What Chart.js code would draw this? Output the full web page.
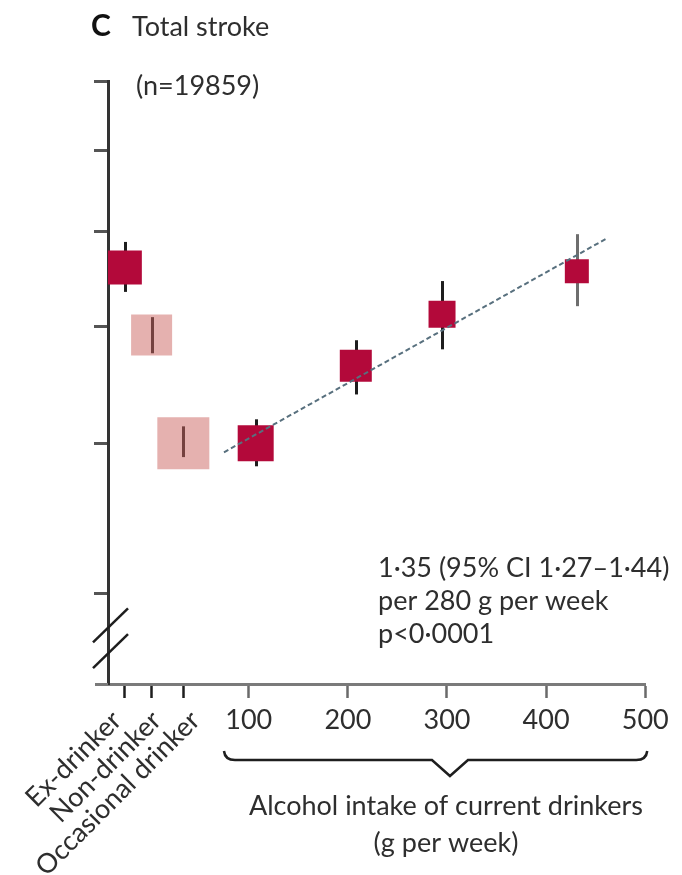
<!DOCTYPE html>
<html>
<head>
<meta charset="utf-8">
<script src="https://cdn.jsdelivr.net/npm/chart.js@4.4.1/dist/chart.umd.min.js"></script>
<style>
  html, body { margin: 0; padding: 0; background: #fff; }
  canvas { display: block; }
</style>
</head>
<body>
<canvas id="stroke" width="682" height="875"></canvas>
<script>
// Total stroke: hazard ratio by drinking group (log scale)

const categoryLabels = ['Ex-drinker', 'Non-drinker', 'Occasional drinker'];
const categoryPos = [-25, 2, 34];
const intakeTicks = [100, 200, 300, 400, 500];
const hrTicks = [0.75, 1, 1.25, 1.5, 1.75, 2];

// one entry per marker: 3 non-current groups, then current drinkers
const intake = [-25, 2, 34, 107, 208, 295, 431];
const hazard = [1.40, 1.23, 1.00, 1.00, 1.16, 1.28, 1.39];
const ciLow = [1.336, 1.188, 0.974, 0.957, 1.098, 1.197, 1.300];
const ciHigh = [1.470, 1.273, 1.033, 1.047, 1.218, 1.364, 1.492];

// fitted log-linear trend among current drinkers
const fitIntake = [75, 460];
const fitHazard = [0.983, 1.478];

const RED = '#b3093a';
const PINK = 'rgba(204, 100, 95, 0.5)';
const markerSide = [34, 41, 52, 36, 32, 27, 24];
const markerColor = [RED, PINK, PINK, RED, RED, RED, RED];
const ciColor = ['#1e1e1e', '#1e1e1e', '#1e1e1e', '#1e1e1e', '#1e1e1e', '#1e1e1e', '#6e6e6e'];

const FONT = 'Lato, "Open Sans", sans-serif';
const TEXT = '#2e2e2e';

const errorBars = {
    id: 'errorBars',
    beforeDatasetsDraw(chart) {
        const { ctx, scales: { x, y } } = chart;
        ctx.save();
        ctx.lineWidth = 3;
        intake.forEach((v, i) => {
            const px = Math.round(x.getPixelForValue(v)) + 0.5;
            ctx.strokeStyle = ciColor[i];
            ctx.beginPath();
            ctx.moveTo(px, y.getPixelForValue(ciHigh[i]));
            ctx.lineTo(px, y.getPixelForValue(ciLow[i]));
            ctx.stroke();
        });
        ctx.restore();
    }
};

const decorations = {
    id: 'decorations',
    afterDraw(chart) {
        const { ctx, chartArea, scales: { x, y } } = chart;
        const left = chartArea.left;
        const bottom = chartArea.bottom;
        ctx.save();

        // x axis runs a little past the y axis
        ctx.strokeStyle = '#7a7a7a';
        ctx.lineWidth = 3;
        ctx.beginPath();
        ctx.moveTo(95, bottom + 0.5);
        ctx.lineTo(left, bottom + 0.5);
        ctx.stroke();

        // axis break
        ctx.strokeStyle = '#1e1e1e';
        ctx.lineWidth = 2.5;
        [0.706, 0.672].forEach(v => {
            const cy = y.getPixelForValue(v);
            ctx.beginPath();
            ctx.moveTo(left - 15, cy + 17);
            ctx.lineTo(left + 20, cy - 17);
            ctx.stroke();
        });

        // panel title
        ctx.fillStyle = '#111';
        ctx.textAlign = 'left';
        ctx.textBaseline = 'alphabetic';
        ctx.font = 'bold 30px ' + FONT;
        ctx.fillText('C', 91, 36);
        ctx.fillStyle = TEXT;
        ctx.font = '27px ' + FONT;
        ctx.fillText('Total stroke', 132, 36);
        ctx.fillText('(n=19859)', 136, 95);

        // trend estimate
        ctx.fillText('1·35 (95% CI 1·27–1·44)', 378, 577);
        ctx.fillText('per 280 g per week', 378, 610);
        ctx.fillText('p<0·0001', 378, 643);

        // slanted labels for the non-current groups
        const shift = [-8, 5, 12];
        categoryLabels.forEach((label, i) => {
            const px = x.getPixelForValue(categoryPos[i]);
            ctx.save();
            ctx.translate(px + shift[i], 716);
            ctx.rotate(-Math.PI / 4);
            ctx.textAlign = 'right';
            ctx.textBaseline = 'middle';
            ctx.fillText(label, 0, 0);
            ctx.restore();
        });

        // brace under the intake scale
        const bx0 = x.getPixelForValue(75);
        const bx1 = x.getPixelForValue(500) + 2;
        const tip = x.getPixelForValue(303);
        const by = 760;
        ctx.strokeStyle = '#1e1e1e';
        ctx.lineWidth = 2.5;
        ctx.beginPath();
        ctx.moveTo(bx0, by - 9);
        ctx.quadraticCurveTo(bx0 + 1, by, bx0 + 11, by);
        ctx.lineTo(tip - 18, by);
        ctx.lineTo(tip, by + 16);
        ctx.lineTo(tip + 18, by);
        ctx.lineTo(bx1 - 11, by);
        ctx.quadraticCurveTo(bx1 - 1, by, bx1, by - 9);
        ctx.stroke();

        // axis title
        ctx.textAlign = 'center';
        ctx.fillText('Alcohol intake of current drinkers', tip - 4, 815);
        ctx.fillText('(g per week)', tip - 4, 852);

        ctx.restore();
    }
};

const points = intake.map((v, i) => ({ x: v, y: hazard[i] }));
const fitLine = fitIntake.map((v, i) => ({ x: v, y: fitHazard[i] }));

const config = {
    type: 'scatter',
    data: {
        datasets: [
            {
                type: 'line',
                data: fitLine,
                borderColor: '#58707e',
                borderWidth: 2,
                borderDash: [5, 3],
                pointRadius: 0,
                fill: false,
                order: 0
            },
            {
                data: points,
                pointStyle: 'rect',
                pointRadius: markerSide.map(s => s / Math.SQRT2),
                pointBackgroundColor: markerColor,
                pointBorderWidth: 0,
                order: 1
            }
        ]
    },
    options: {
        responsive: false,
        animation: false,
        layout: { padding: { left: 0, right: 29, top: 81, bottom: 0 } },
        plugins: {
            legend: { display: false },
            tooltip: { enabled: false }
        },
        scales: {
            x: {
                type: 'linear',
                min: -42,
                max: 500,
                afterBuildTicks: s => { s.ticks = categoryPos.concat(intakeTicks).map(v => ({ value: v })); },
                afterFit: s => { s.height = 191; },
                grid: {
                    drawOnChartArea: false,
                    tickLength: 14,
                    tickWidth: 2.5,
                    tickColor: c => (c.tick && c.tick.value < 100 ? '#1e1e1e' : '#6a6a6a')
                },
                border: { color: '#7a7a7a', width: 3 },
                ticks: {
                    callback: v => (v >= 100 ? v : ''),
                    font: { family: FONT, size: 27 },
                    color: TEXT,
                    padding: 6,
                    maxRotation: 0,
                    autoSkip: false
                }
            },
            y: {
                type: 'logarithmic',
                bounds: 'data',
                min: 0.631,
                max: 2.0,
                afterBuildTicks: s => { s.ticks = hrTicks.map(v => ({ value: v })); },
                afterFit: s => { s.width = 108; },
                grid: {
                    drawOnChartArea: false,
                    tickLength: 14,
                    tickWidth: 3,
                    tickColor: '#555'
                },
                border: { color: '#333', width: 3 },
                ticks: { callback: () => '', autoSkip: false }
            }
        }
    },
    plugins: [errorBars, decorations]
};

const strokeChart = new Chart(document.getElementById('stroke'), config);
</script>
</body>
</html>
